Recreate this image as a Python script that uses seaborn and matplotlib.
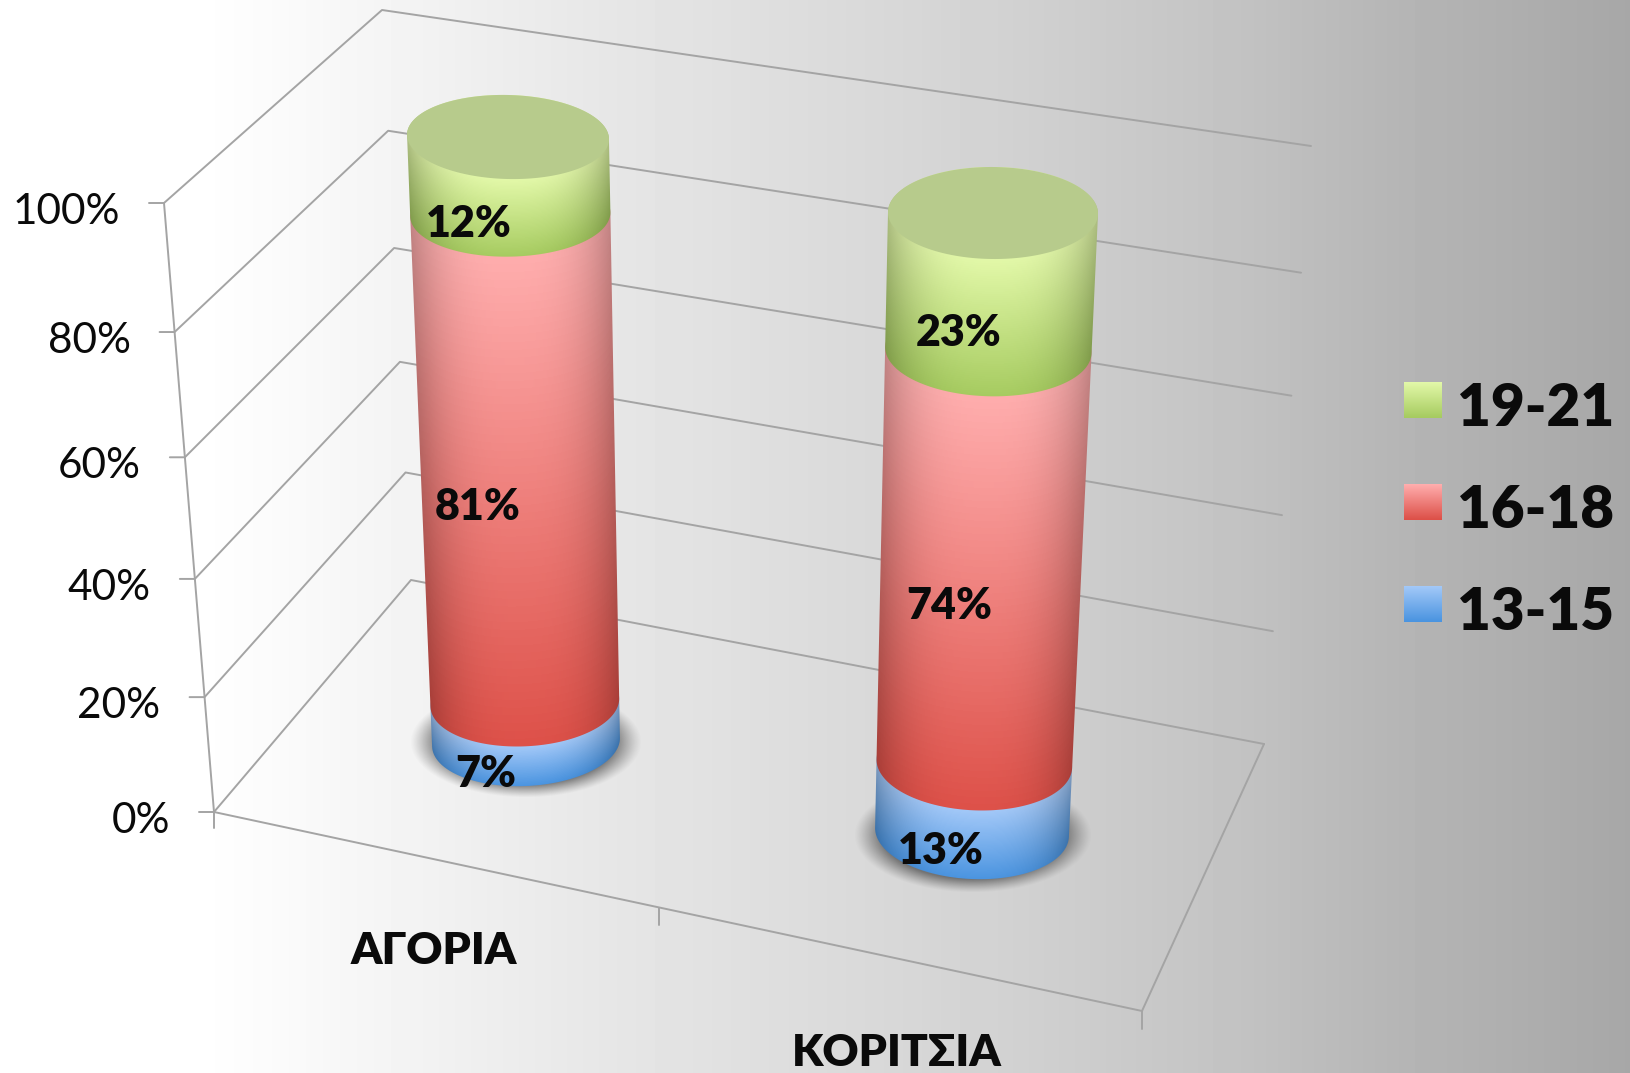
import numpy as np
import pandas as pd
import matplotlib
matplotlib.use("Agg")
import matplotlib.pyplot as plt
from matplotlib.patches import Polygon
import seaborn as sns

# ---- data ----
categories = ["ΑΓΟΡΙΑ", "ΚΟΡΙΤΣΙΑ"]
age_groups = ["13-15", "16-18", "19-21"]
values_13_15 = [7, 13]
values_16_18 = [81, 74]
values_19_21 = [12, 23]
axis_ticks = [0, 20, 40, 60, 80, 100]

# ---- 3D scene geometry (pixels of the output picture) ----
W, H = 1631, 1073
FRONT_0, FRONT_100 = (214, 812), (164, 203)
BACK_0, BACK_100 = (411, 580), (382, 10)
RIGHT_0, RIGHT_100 = (1264, 744), (1311, 146)
FLOOR_FRONT_RIGHT = (1142, 1011)
PERSP = 0.93
CYL = [
    dict(cb=(526, 742), ct=(508, 137), rxb=94, rxt=101, ryb=44, ryt=42,
         ab=-3.0, at=-1.0, acap=1.5, dx=-40, shadow=(526, 742, 114, 55)),
    dict(cb=(972, 832), ct=(993, 213), rxb=97, rxt=105, ryb=47, ryt=46,
         ab=3.0, at=1.5, acap=0.5, dx=-32, shadow=(973, 835, 117, 57)),
]
RAMPS = {"13-15": ["#A2C8F8", "#4A94E0"],
         "16-18": ["#FFADAD", "#DD5048"],
         "19-21": ["#E2F8A8", "#A6CB60"]}
CAP = "#B7CB8C"
TXT = "#0A0A0A"
GRID = "#A4A4A4"

sns.set_theme(style="white")
plt.rcParams["font.family"] = ["Lato", "Open Sans", "DejaVu Sans"]

fig = plt.figure(figsize=(W / 100, H / 100), dpi=100)
ax = fig.add_axes([0, 0, 1, 1])
ax.set_axis_off()

# background
bg_stops = np.array([[0, 1.0], [0.12, 1.0], [0.165, 0.985], [0.245, 0.955],
                     [0.37, 0.905], [0.49, 0.865], [0.61, 0.825],
                     [0.755, 0.765], [0.86, 0.71], [1.0, 0.655]])
xs = np.linspace(0, 1, W)
bg = np.interp(xs, bg_stops[:, 0], bg_stops[:, 1])[None, :]
ax.imshow(bg, cmap="gray", vmin=0, vmax=1, extent=(0, W, H, 0),
          aspect="auto", zorder=0)


def level(v):
    f = v / 100
    return f * PERSP / (1 + f * (PERSP - 1))


def lerp(a, b, f):
    return (a[0] + (b[0] - a[0]) * f, a[1] + (b[1] - a[1]) * f)


# grid lines on the walls
rows = []
def add(uid, *pts):
    for p in pts:
        rows.append(dict(uid=uid, px=p[0], py=p[1]))

for v in axis_ticks:
    f = level(v)
    fr, ba, ri = lerp(FRONT_0, FRONT_100, f), lerp(BACK_0, BACK_100, f), lerp(RIGHT_0, RIGHT_100, f)
    add(f"g{v}", (fr[0] - 15, fr[1]), fr, ba, ri)
    ax.text(fr[0] - 44, fr[1] + 9, f"{v}%", ha="right", va="center",
            fontsize=30.5, color=TXT, zorder=8)
add("front", (FRONT_0[0], FRONT_0[1] + 16), FRONT_0, FRONT_100)
mid = lerp(FRONT_0, FLOOR_FRONT_RIGHT, 0.48)
add("floor", FRONT_0, FLOOR_FRONT_RIGHT, RIGHT_0)
add("t1", mid, (mid[0], mid[1] + 17))
add("t2", FLOOR_FRONT_RIGHT, (FLOOR_FRONT_RIGHT[0], FLOOR_FRONT_RIGHT[1] + 18))
grid_df = pd.DataFrame(rows)
sns.lineplot(data=grid_df, x="px", y="py", units="uid", estimator=None, sort=False,
             color=GRID, linewidth=1.4, ax=ax, legend=False, zorder=1)


def ring(c, f):
    """centre, radii, tilt of the cylinder section at stacked fraction f"""
    cx, cy = lerp(c["cb"], c["ct"], f)
    return dict(cx=cx, cy=cy, rx=c["rxb"] + (c["rxt"] - c["rxb"]) * f,
                ry=c["ryb"] + (c["ryt"] - c["ryb"]) * f,
                a=np.radians(c["ab"] + (c["at"] - c["ab"]) * f))


def ell(r, t):
    x = r["cx"] + r["rx"] * np.cos(t) * np.cos(r["a"]) - r["ry"] * np.sin(t) * np.sin(r["a"])
    y = r["cy"] + r["rx"] * np.cos(t) * np.sin(r["a"]) + r["ry"] * np.sin(t) * np.cos(r["a"])
    return np.column_stack([x, y])


def arc_y(r, X):
    u = np.clip((X - r["cx"]) / r["rx"], -1, 1)
    return r["cy"] + r["ry"] * np.sqrt(1 - u ** 2) + np.tan(r["a"]) * (X - r["cx"])


def draw_segment(lo, up, ramp, z):
    poly = np.vstack([ell(lo, np.linspace(np.pi, 0, 120)),
                      ell(up, np.linspace(0, -np.pi, 120))])
    x0, y0 = np.floor(poly.min(axis=0)) - 2
    x1, y1 = np.ceil(poly.max(axis=0)) + 2
    X, Y = np.meshgrid(np.arange(x0, x1) + .5, np.arange(y0, y1) + .5)
    yu, yl = arc_y(up, X), arc_y(lo, X)
    t = np.clip((Y - yu) / np.maximum(yl - yu, 1), 0, 1)
    pal = np.array(sns.blend_palette(ramp, n_colors=64))
    col = pal[(t * 63).astype(int)]
    f = np.clip((lo["cy"] - Y) / max(lo["cy"] - up["cy"], 1), 0, 1)
    cx = lo["cx"] + (up["cx"] - lo["cx"]) * f
    rx = lo["rx"] + (up["rx"] - lo["rx"]) * f
    u = np.abs((X - cx) / rx)
    shade = 1 - 0.24 * np.clip(u, 0, 1) ** 3
    col = np.clip(col * shade[..., None], 0, 1)
    im = ax.imshow(col, extent=(x0, x1, y1, y0), aspect="auto", zorder=z, interpolation="bilinear")
    im.set_clip_path(Polygon(poly, closed=True, transform=ax.transData))


# cylinders from the normalised stack
stack = np.array([values_13_15, values_16_18, values_19_21], dtype=float)
cum = np.vstack([np.zeros(stack.shape[1]), np.cumsum(stack, axis=0)]) / stack.sum(axis=0)

for i, c in enumerate(CYL):
    sx, sy, srx, sry = c["shadow"]
    X, Y = np.meshgrid(np.arange(sx - srx - 10, sx + srx + 10), np.arange(sy - sry - 10, sy + sry + 10))
    r = np.sqrt(((X - sx) / srx) ** 2 + ((Y - sy) / sry) ** 2)
    al = 0.68 * np.clip((1.02 - r) / 0.24, 0, 1) ** 1.2
    sh = np.zeros(X.shape + (4,))
    sh[..., :3] = 0.27
    sh[..., 3] = al
    ax.imshow(sh, extent=(X.min(), X.max(), Y.max(), Y.min()), aspect="auto", zorder=2)

    for s, g in enumerate(age_groups):
        lo, up = ring(c, level(100 * cum[s, i])), ring(c, level(100 * cum[s + 1, i]))
        if s == len(age_groups) - 1:
            up = dict(cx=c["ct"][0], cy=c["ct"][1], rx=c["rxt"], ry=c["ryt"], a=np.radians(c["acap"]))
        draw_segment(lo, up, RAMPS[g], 3 + s)
        fm = (cum[s, i] + cum[s + 1, i]) / 2
        m = ring(c, fm)
        ax.text(m["cx"] + c["dx"], m["cy"] + m["ry"] + 9, f"{int(stack[s, i])}%", ha="center",
                va="center", fontsize=31, fontweight="heavy", color=TXT, zorder=8)
    capr = dict(cx=c["ct"][0], cy=c["ct"][1], rx=c["rxt"], ry=c["ryt"], a=np.radians(c["acap"]))
    ax.add_patch(Polygon(ell(capr, np.linspace(0, 2 * np.pi, 200)), closed=True,
                         facecolor=CAP, edgecolor="none", zorder=7))

# category labels
for name, x, y in zip(categories, (434, 897), (951, 1053)):
    ax.text(x, y, name, ha="center", va="center", fontsize=32, fontweight="heavy", color=TXT, zorder=8)

# legend
for g, y in zip(age_groups, (604, 502, 400)):
    pal = np.array(sns.blend_palette(RAMPS[g], n_colors=36))[:, None, :]
    ax.imshow(pal, extent=(1404, 1442, y + 18, y - 18), aspect="auto", zorder=8)
    ax.text(1457, y + 8, g, ha="left", va="center", fontsize=42, fontweight="heavy", color=TXT, zorder=8)

ax.set_xlim(0, W)
ax.set_ylim(H, 0)
ax.set_xlabel("")
ax.set_ylabel("")
fig.savefig("out.png", dpi=100)
